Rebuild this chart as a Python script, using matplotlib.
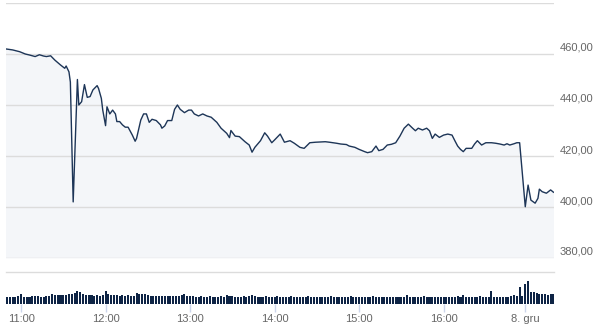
import matplotlib
matplotlib.use("Agg")
import matplotlib.pyplot as plt
import matplotlib.transforms as mtransforms
import numpy as np

plt.rcParams['font.family'] = ['Liberation Sans', 'DejaVu Sans']

# ---------------- data ----------------
day1_times = ["10:49", "10:54", "10:59", "11:03", "11:06", "11:10", "11:13", "11:16", "11:18", "11:21",
              "11:24", "11:28", "11:31", "11:32", "11:34", "11:35", "11:37", "11:40", "11:41", "11:43",
              "11:45", "11:47", "11:49", "11:51", "11:54", "11:55", "11:57", "11:58", "12:00", "12:01",
              "12:03", "12:05", "12:07", "12:08", "12:10", "12:12", "12:14", "12:16", "12:19", "12:21",
              "12:22", "12:25", "12:27", "12:29", "12:31", "12:33", "12:36", "12:39", "12:40", "12:42",
              "12:44", "12:47", "12:49", "12:51", "12:53", "12:56", "12:59", "13:01", "13:03", "13:06",
              "13:09", "13:12", "13:15", "13:19", "13:22", "13:26", "13:28", "13:29", "13:32", "13:35",
              "13:39", "13:42", "13:44", "13:46", "13:50", "13:53", "13:55", "13:58", "14:00", "14:04",
              "14:07", "14:11", "14:14", "14:18", "14:21", "14:25", "14:29", "14:32", "14:36", "14:39",
              "14:44", "14:47", "14:51", "14:53", "14:57", "15:00", "15:04", "15:06", "15:09", "15:12",
              "15:14", "15:17", "15:20", "15:23", "15:26", "15:29", "15:32", "15:35", "15:38", "15:40",
              "15:42", "15:45", "15:48", "15:50", "15:52", "15:54", "15:57", "16:00", "16:03", "16:06",
              "16:08", "16:10", "16:12", "16:14", "16:16", "16:20", "16:22", "16:24", "16:27", "16:30",
              "16:34", "16:37", "16:40", "16:43", "16:45", "16:47", "16:50", "16:52", "16:54"]
day1_prices = [462.0, 461.6, 460.9, 460.0, 459.6, 459.0, 459.7, 459.2, 459.0, 459.3,
               457.6, 455.7, 454.4, 455.3, 453.0, 449.0, 402.0, 450.0, 440.0, 441.3,
               448.0, 443.0, 443.3, 445.9, 447.6, 446.5, 442.6, 438.0, 431.9, 439.3,
               436.5, 438.0, 436.5, 433.5, 433.5, 432.2, 431.3, 431.3, 428.2, 425.8,
               426.9, 434.1, 436.5, 436.5, 433.2, 434.4, 433.9, 432.2, 430.9, 431.8,
               433.9, 433.9, 438.3, 440.0, 438.3, 437.0, 438.0, 438.0, 436.5, 435.7,
               436.5, 435.7, 435.2, 433.2, 430.9, 428.9, 427.2, 430.0, 427.8, 427.6,
               425.6, 424.3, 421.5, 423.4, 426.0, 429.1, 427.8, 425.2, 426.3, 428.6,
               425.4, 426.0, 425.0, 423.4, 423.0, 425.2, 425.4, 425.5, 425.6, 425.4,
               425.0, 424.7, 424.5, 423.9, 423.4, 422.6, 421.7, 421.3, 421.7, 423.9,
               422.1, 422.6, 424.3, 424.6, 425.2, 427.8, 430.9, 432.5, 430.9, 429.9,
               430.9, 430.2, 430.9, 429.9, 426.9, 428.6, 427.3, 428.2, 428.6, 428.2,
               426.0, 423.9, 422.6, 421.7, 423.0, 423.0, 424.7, 426.0, 424.3, 425.2,
               425.2, 425.0, 424.7, 424.3, 424.8, 424.3, 424.8, 425.2, 425.2]
day2_times = ["09:00", "09:02", "09:04", "09:07", "09:09", "09:10", "09:12", "09:15", "09:18", "09:20"]
day2_prices = [400.1, 408.6, 402.7, 401.5, 403.4, 407.0, 406.0, 405.4, 406.7, 405.8]

# volume, one bar per 2 minutes: day 1 from 10:50 to 16:56, day 2 from 09:00 to 09:20
vol_day1 = [7.5, 7.5, 7.5, 7.5, 8.0,
            10, 7.5, 7.5, 7.5, 8, 8, 8, 7.5, 7.5, 8, 8, 10.5, 9, 9, 9, 9, 9, 10.5, 10.5, 11,
            13, 12, 10, 9.5, 9.5, 9, 8.5, 9.5, 8.5, 9,
            13, 10, 9.5, 9, 9, 8.5, 9, 8, 9, 8.5, 8, 11, 10, 10, 10, 9, 8.5, 8, 8, 8,
            8, 8, 8, 8, 8, 8, 8.5, 9, 10, 8.5,
            8, 8, 7.5, 7.5, 8, 7.5, 7.5, 8, 7.5, 7.5, 7.5, 8, 7.5, 9, 8.5, 8.5, 7.5, 7.5, 7.5, 8,
            7.5, 8, 9.5, 8, 7.5, 7.5, 7.5, 8, 7.5, 7.5,
            7.5, 8, 7.5, 7.5, 7.5, 7.5, 8, 7.5, 7.5, 7.5, 7.5, 7.5, 8, 7.5, 7.5, 7.5, 7.5, 7.5, 7.5, 7.5,
            8, 7.5, 7.5, 7.5, 7.5, 7.5, 7.5, 8, 7.5, 7.5,
            7.5, 7.5, 7.5, 7.5, 7.5, 8, 7.5, 7.5, 7.5, 7.5, 7.5, 7.5, 7.5, 7.5, 7.5, 7.5, 7.5, 9, 7.5, 7.5,
            7.5, 7.5, 7.5, 8, 7.5, 7.5, 7.5, 7.5, 7.5, 7.5,
            7.5, 7.5, 7.5, 7.5, 7.5, 8, 7.5, 9, 7.5, 7.5, 7.5, 7.5, 7.5, 8, 7.5, 7.5, 7.5, 13.5, 7.5, 7.5,
            7.5, 7.5, 7.5, 7.5, 8, 9.5, 8, 17, 8]
vol_day2 = [20, 23, 12, 12, 11, 10.5, 10.5, 10.5, 9.5, 10, 10]

ytick_vals = [380, 400, 420, 440, 460, 480]
xtick_labels = ["11:00", "12:00", "13:00", "14:00", "15:00", "16:00", "8. gru"]
xtick_times = ["11:00", "12:00", "13:00", "14:00", "15:00", "16:00", "d2 09:00"]

# ---------------- helpers (ordinal trading axis) ----------------
DAY2_START = 358  # position of day 2 09:00 on the axis, minutes after day-1 11:00


def pos1(t):
    h, m = map(int, t.split(":"))
    return h * 60 + m - 11 * 60


def pos2(t):
    h, m = map(int, t.split(":"))
    return DAY2_START + h * 60 + m - 9 * 60


def tick_pos(t):
    return pos2(t[3:]) if t.startswith("d2 ") else pos1(t)


x1 = np.array([pos1(t) for t in day1_times])
x2 = np.array([pos2(t) for t in day2_times])
xs = np.concatenate([x1, x2])
ys = np.array(day1_prices + day2_prices)

vx1 = pos1("10:50") + 2 * np.arange(len(vol_day1))
vx2 = DAY2_START + 2 * np.arange(len(vol_day2))
vx = np.concatenate([vx1, vx2])
vv = np.array(vol_day1 + vol_day2)

# ---------------- figure ----------------
W, H = 604, 331
fig = plt.figure(figsize=(W / 100, H / 100), dpi=100)
fig.patch.set_facecolor("white")

left, right = 6, 554
xlim = (-10.7, 378.4)

axp = fig.add_axes([left / W, (H - 258) / H, (right - left) / W, 255 / H])
axv = fig.add_axes([left / W, (H - 304) / H, (right - left) / W, 32 / H])

line_col = "#1d3557"
fill_col = "#f4f6f9"
grid_col = "#dcdcdc"
text_col = "#666666"

# price panel
axp.fill_between(xs, ys, 380, color=fill_col, lw=0, zorder=1)
axp.plot(xs, ys, color=line_col, lw=1.0, zorder=3, solid_joinstyle="round")
for v in ytick_vals:
    axp.axhline(v, color=grid_col, lw=1.0, zorder=2)
axp.set_xlim(*xlim)
axp.set_ylim(380, 480)
axp.set_xticks([])
axp.set_yticks([])
for s in axp.spines.values():
    s.set_visible(False)
axp.patch.set_alpha(0)

trans = mtransforms.blended_transform_factory(axp.transAxes, axp.transData)
trans = mtransforms.offset_copy(trans, fig=fig, x=0, y=6, units="dots")
for v in ytick_vals[:-1]:
    axp.text(1.0 + 6 / (right - left), v, f"{v},00".replace(".", ","), transform=trans,
             ha="left", va="center", fontsize=8, color=text_col, clip_on=False)

# volume panel
axv.bar(vx, vv, width=1.45, color="#0e2445", lw=0, align="center")
axv.set_xlim(*xlim)
axv.set_ylim(0, 32)
axv.set_yticks([])
for k in ("left", "right", "bottom"):
    axv.spines[k].set_visible(False)
axv.spines["top"].set_color(grid_col)
axv.spines["top"].set_linewidth(1.0)
axv.set_xticks([tick_pos(t) for t in xtick_times])
axv.set_xticklabels(xtick_labels)
axv.tick_params(axis="x", direction="out", length=6, width=1, color="#ccd6eb",
                labelsize=8, labelcolor=text_col, pad=1.5)

fig.savefig("out.png", dpi=100, facecolor="white")
